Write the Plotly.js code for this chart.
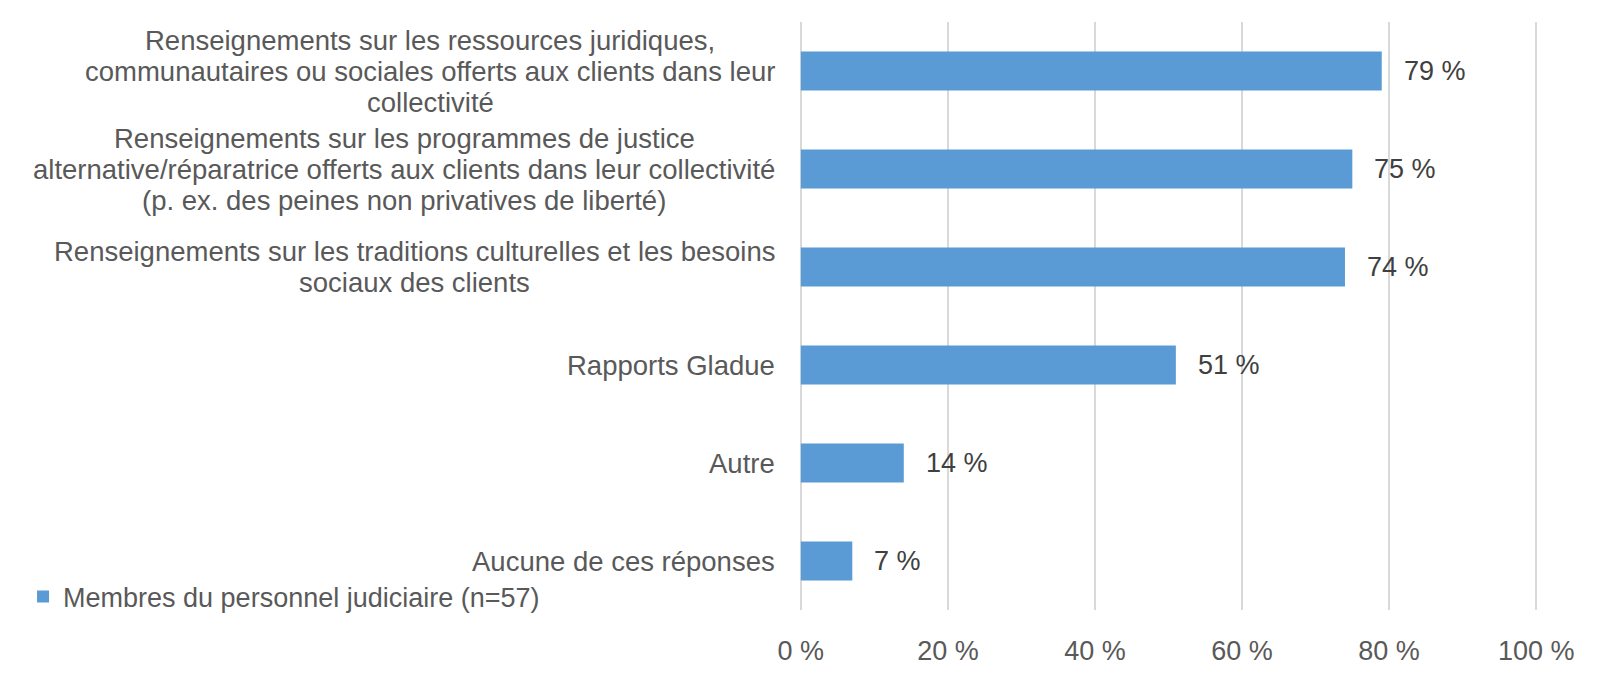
<!DOCTYPE html>
<html>
<head>
<meta charset="utf-8">
<script src="https://cdn.plot.ly/plotly-3.0.1.min.js"></script>
<style>
  html, body { margin: 0; padding: 0; background: #fff; }
  #chart { width: 1615px; height: 677px; }
</style>
</head>
<body>
<div id="chart"></div>
<script>
// each category label is stored as its wrapped lines
const CATEGORIES = [
  ['Renseignements sur les ressources juridiques,',
   'communautaires ou sociales offerts aux clients dans leur',
   'collectivité'],
  ['Renseignements sur les programmes de justice',
   'alternative/réparatrice offerts aux clients dans leur collectivité',
   '(p. ex. des peines non privatives de liberté)'],
  ['Renseignements sur les traditions culturelles et les besoins',
   'sociaux des clients'],
  ['Rapports Gladue'],
  ['Autre'],
  ['Aucune de ces réponses'],
];
const VALUES = [79, 75, 74, 51, 14, 7];
const SERIES_NAME = 'Membres du personnel judiciaire (n=57)';
const X_TICKS = [0, 20, 40, 60, 80, 100];
const X_TICK_LABELS = ['0 %', '20 %', '40 %', '60 %', '80 %', '100 %'];

const FONT = 'Liberation Sans, Arial, sans-serif';
const GREY = '#595959';
const GRID = '#D9D9D9';
const LINE_H = 31;   // Excel-style tight line spacing for the wrapped labels

// category ids keep the y axis simple; the visible text goes in annotations
const ids = CATEGORIES.map((_, i) => 'c' + i);

const trace = {
  type: 'bar', orientation: 'h',
  x: VALUES, y: ids,
  name: SERIES_NAME,
  marker: { color: '#5B9BD5' },
  hoverinfo: 'skip',
};

// one annotation per line, centred on the label's widest line
const catNotes = [];
CATEGORIES.forEach((lines, i) => {
  const n = lines.length;
  const widest = Math.max(...lines.map(s => s.length));
  lines.forEach((line, k) => {
    catNotes.push({
      text: line, xref: 'paper', yref: 'y', x: 0, y: ids[i],
      xanchor: 'right', yanchor: 'middle', align: 'right',
      xshift: -22, yshift: ((n - 1) / 2 - k) * LINE_H,
      showarrow: false, font: { family: FONT, size: 27.5, color: GREY },
      _k: k, _n: n, _w: widest,
    });
  });
});

const valNotes = VALUES.map((v, i) => ({
  text: v + ' %', xref: 'x', yref: 'y', x: v, y: ids[i],
  xanchor: 'left', yanchor: 'middle', xshift: 20,
  showarrow: false, font: { family: FONT, size: 27, color: '#404040' },
}));

const layout = {
  width: 1615, height: 677,
  paper_bgcolor: '#fff', plot_bgcolor: '#fff',
  margin: { l: 799, r: 77, t: 22, b: 67 },
  font: { family: FONT, size: 27, color: GREY },
  bargap: 0.6,
  xaxis: {
    // a hair wider than 0–100 so both edge gridlines get drawn
    range: [-0.25, 100.25], tickvals: X_TICKS, ticktext: X_TICK_LABELS,
    showgrid: true, gridcolor: GRID, gridwidth: 2,
    zeroline: true, zerolinecolor: GRID, zerolinewidth: 2,
    showline: false, ticks: '',
    ticklabelstandoff: 22,
    tickfont: { family: FONT, size: 27, color: GREY },
    fixedrange: true,
  },
  yaxis: {
    autorange: 'reversed', showticklabels: false,
    showgrid: false, zeroline: false, showline: false, ticks: '',
    fixedrange: true,
  },
  showlegend: true,
  legend: {
    x: -1.05, xanchor: 'left', y: 0.022, yanchor: 'middle',
    font: { family: FONT, size: 27, color: GREY },
    bgcolor: 'rgba(0,0,0,0)',
  },
  annotations: catNotes.map(({ _k, _n, _w, ...a }) => a).concat(valNotes),
};

Plotly.newPlot('chart', [trace], layout, { displayModeBar: false, staticPlot: true }).then(gd => {
  // lines are right-anchored; re-centre each multi-line label on its widest line
  const groups = {};
  gd.querySelectorAll('.annotation').forEach((el, idx) => {
    const a = catNotes[idx];
    if (!a || a._n < 2) return;
    const w = el.querySelector('.annotation-text-g').getBBox().width;
    (groups[a.y] = groups[a.y] || []).push({ idx, w });
  });
  const update = {};
  Object.values(groups).forEach(g => {
    const maxW = Math.max(...g.map(o => o.w));
    g.forEach(o => {
      update[`annotations[${o.idx}].xshift`] = -22 - (maxW - o.w) / 2;
    });
  });
  return Plotly.relayout(gd, update);
});
</script>
</body>
</html>
